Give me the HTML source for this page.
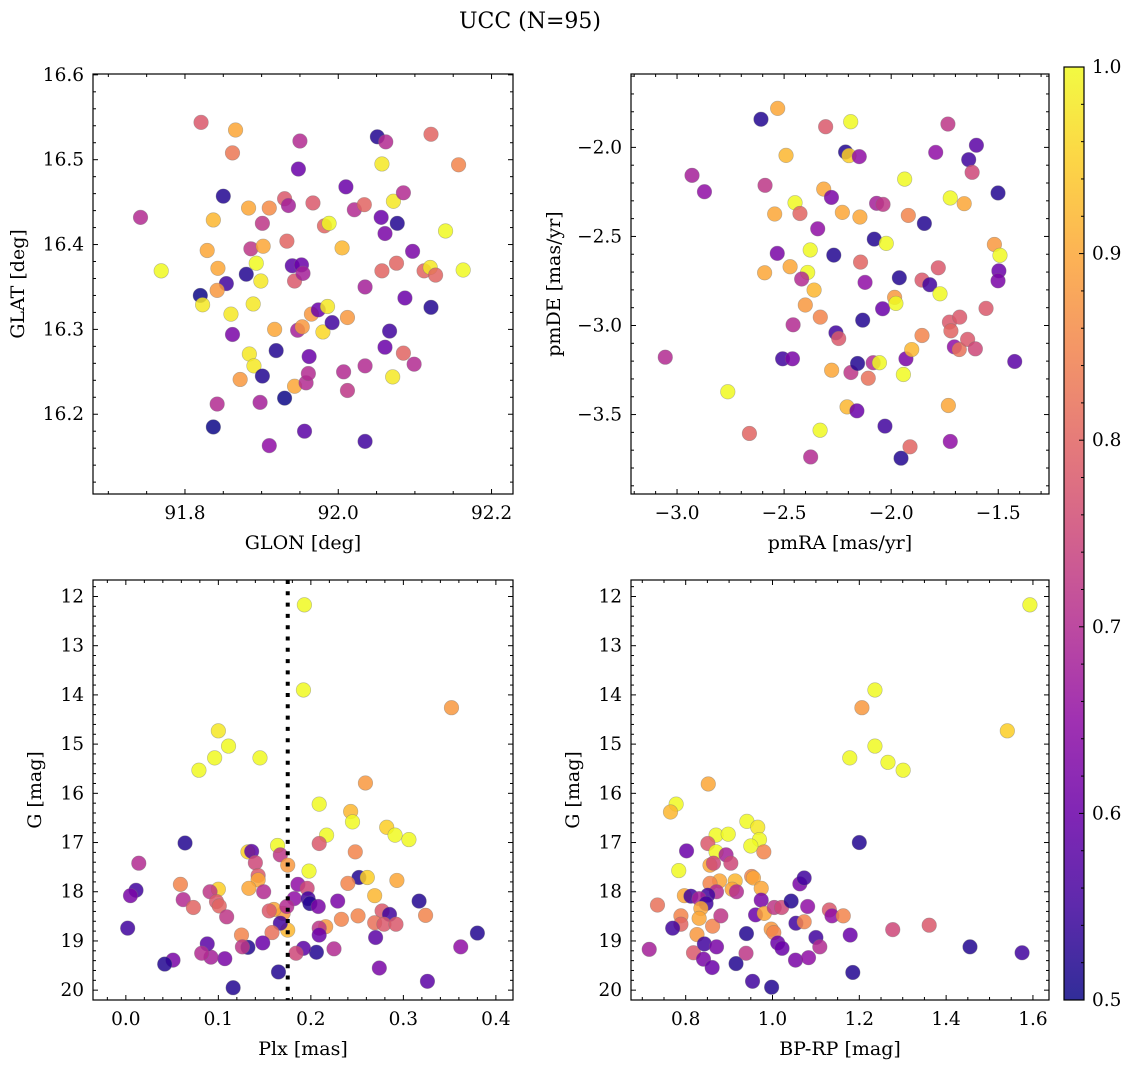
<!DOCTYPE html>
<html><head><meta charset="utf-8"><style>
html,body{margin:0;padding:0;background:#fff;}
svg{display:block;font-family:"DejaVu Serif","Liberation Serif",serif;}
</style></head><body>
<svg id="fig" width="1136" height="1067" viewBox="0 0 1136 1067" xmlns="http://www.w3.org/2000/svg">
<text x="530" y="28" text-anchor="middle" font-size="22">UCC (N=95)</text>
</svg>
<script>
// ---- Panel 1: GLON vs GLAT ----
const glon=[91.742,91.769,91.821,91.866,91.862,91.850,91.837,91.829,91.843,91.854,91.842,91.820,91.823,91.860,91.862,91.880,91.883,91.886,91.893,91.901,91.910,91.902,91.899,91.889,91.872,91.884,91.890,91.901,91.898,91.842,91.837,91.910,91.917,91.919,91.930,91.930,91.935,91.933,91.940,91.943,91.943,91.950,91.948,91.952,91.954,91.947,91.953,91.958,91.961,91.956,91.962,91.965,91.967,91.982,91.974,91.980,91.986,91.988,91.992,92.010,92.005,92.012,92.007,92.012,92.021,92.034,92.035,92.035,92.035,92.051,92.062,92.057,92.056,92.061,92.057,92.061,92.067,92.071,92.072,92.076,92.077,92.085,92.085,92.087,92.097,92.099,92.112,92.121,92.120,92.127,92.121,92.140,92.157,92.163];
const glat=[16.432,16.369,16.544,16.535,16.508,16.457,16.429,16.393,16.372,16.354,16.346,16.340,16.329,16.318,16.294,16.365,16.443,16.395,16.378,16.425,16.443,16.398,16.357,16.330,16.241,16.271,16.257,16.245,16.214,16.212,16.185,16.163,16.300,16.275,16.219,16.454,16.446,16.404,16.375,16.357,16.233,16.522,16.489,16.376,16.366,16.299,16.303,16.237,16.248,16.180,16.268,16.318,16.449,16.422,16.323,16.297,16.327,16.425,16.308,16.468,16.396,16.314,16.250,16.228,16.441,16.447,16.350,16.257,16.168,16.527,16.521,16.495,16.432,16.413,16.369,16.279,16.298,16.244,16.451,16.378,16.425,16.461,16.272,16.337,16.392,16.259,16.369,16.530,16.373,16.364,16.326,16.416,16.494,16.370];
const prob1=[0.7,1.0,0.78,0.9,0.83,0.52,0.92,0.9,0.9,0.55,0.88,0.5,0.98,0.98,0.62,0.52,0.9,0.72,1.0,0.72,0.86,0.9,0.98,0.98,0.88,0.98,0.98,0.52,0.68,0.7,0.5,0.65,0.9,0.52,0.5,0.78,0.68,0.8,0.58,0.78,0.9,0.7,0.6,0.6,0.68,0.68,0.88,0.7,0.7,0.58,0.6,0.88,0.78,0.8,0.6,0.96,0.98,1.0,0.55,0.6,0.92,0.88,0.7,0.72,0.7,0.8,0.68,0.7,0.55,0.52,0.7,0.98,0.6,0.62,0.8,0.6,0.55,0.98,0.98,0.8,0.52,0.7,0.8,0.6,0.62,0.7,0.8,0.8,0.98,0.8,0.52,1.0,0.85,1.0];
// ---- Panel 2: pmRA vs pmDE ----
const pmra=[-3.055,-2.930,-2.872,-2.763,-2.662,-2.608,-2.530,-2.491,-2.589,-2.544,-2.449,-2.426,-2.532,-2.591,-2.472,-2.378,-2.390,-2.418,-2.360,-2.401,-2.331,-2.458,-2.507,-2.461,-2.306,-2.315,-2.279,-2.343,-2.268,-2.228,-2.189,-2.213,-2.197,-2.149,-2.146,-2.258,-2.245,-2.278,-2.188,-2.107,-2.157,-2.084,-2.055,-2.206,-2.160,-2.332,-2.376,-2.143,-2.122,-2.133,-2.079,-2.023,-2.068,-2.038,-2.040,-1.984,-1.978,-2.029,-1.954,-1.912,-1.943,-1.931,-1.904,-1.962,-1.937,-1.920,-1.845,-1.856,-1.856,-1.820,-1.772,-1.780,-1.792,-1.735,-1.724,-1.659,-1.733,-1.724,-1.728,-1.721,-1.705,-1.682,-1.680,-1.643,-1.607,-1.557,-1.638,-1.602,-1.622,-1.501,-1.518,-1.492,-1.497,-1.501,-1.423];
const pmde=[-3.178,-2.157,-2.249,-3.372,-3.606,-1.842,-1.781,-2.045,-2.213,-2.374,-2.311,-2.371,-2.595,-2.704,-2.670,-2.576,-2.702,-2.739,-2.801,-2.885,-2.953,-2.996,-3.187,-3.187,-1.884,-2.234,-2.281,-2.457,-2.605,-2.365,-1.856,-2.026,-2.046,-2.052,-2.391,-3.041,-3.073,-3.251,-3.264,-3.296,-3.213,-3.209,-3.209,-3.457,-3.479,-3.588,-3.738,-2.644,-2.758,-2.970,-2.515,-2.539,-2.314,-2.320,-2.906,-2.842,-2.876,-3.565,-3.745,-3.681,-3.275,-3.187,-3.135,-2.732,-2.178,-2.382,-2.427,-3.056,-2.745,-2.771,-2.822,-2.676,-2.028,-1.869,-2.284,-2.316,-3.449,-3.651,-2.981,-3.030,-3.120,-3.135,-2.953,-3.078,-3.131,-2.904,-2.069,-1.988,-2.140,-2.256,-2.545,-2.606,-2.693,-2.749,-3.202];
const prob2=[0.7,0.68,0.65,1.0,0.8,0.52,0.9,0.92,0.72,0.9,1.0,0.8,0.62,0.9,0.9,1.0,1.0,0.7,0.92,0.88,0.85,0.7,0.55,0.62,0.78,0.9,0.62,0.65,0.52,0.9,1.0,0.52,0.95,0.65,0.9,0.55,0.78,0.9,0.72,0.82,0.52,0.7,1.0,0.92,0.6,1.0,0.7,0.8,0.65,0.52,0.52,1.0,0.68,0.72,0.6,0.88,1.0,0.55,0.52,0.8,1.0,0.62,0.92,0.52,1.0,0.85,0.52,0.85,0.78,0.55,1.0,0.78,0.65,0.72,1.0,0.9,0.9,0.65,0.78,0.8,0.65,0.82,0.78,0.78,0.75,0.78,0.55,0.58,0.75,0.52,0.88,1.0,0.6,0.62,0.58];
// ---- Panel 3: Plx vs G ----
const plx=[0.193,0.192,0.352,0.100,0.111,0.096,0.079,0.145,0.259,0.209,0.243,0.245,0.282,0.291,0.306,0.217,0.209,0.064,0.248,0.014,0.132,0.136,0.164,0.167,0.140,0.175,0.198,0.143,0.143,0.133,0.149,0.100,0.091,0.059,0.062,0.073,0.098,0.101,0.109,0.011,0.005,0.002,0.186,0.196,0.182,0.197,0.199,0.208,0.229,0.252,0.261,0.240,0.293,0.269,0.277,0.285,0.269,0.279,0.292,0.317,0.324,0.380,0.362,0.326,0.274,0.270,0.233,0.251,0.225,0.216,0.209,0.209,0.206,0.192,0.184,0.175,0.170,0.160,0.155,0.174,0.167,0.158,0.165,0.148,0.132,0.125,0.126,0.107,0.092,0.088,0.082,0.051,0.042,0.116];
const gmag3=[12.17,13.90,14.26,14.73,15.04,15.28,15.53,15.28,15.79,16.22,16.37,16.58,16.69,16.85,16.94,16.85,17.02,17.01,17.19,17.42,17.19,17.18,17.06,17.25,17.41,17.46,17.58,17.67,17.76,17.93,18.00,17.95,18.00,17.85,18.16,18.32,18.20,18.29,18.51,17.97,18.08,18.74,17.85,17.93,18.14,18.14,18.24,18.30,18.19,17.71,17.71,17.83,17.77,18.08,18.39,18.46,18.63,18.66,18.66,18.19,18.48,18.84,19.12,19.82,19.55,18.93,18.56,18.49,19.16,18.71,18.74,18.88,19.23,19.15,19.25,18.78,18.44,18.36,18.39,18.30,18.64,18.83,19.63,19.04,19.13,18.88,19.12,19.36,19.33,19.06,19.25,19.39,19.47,19.95];
const prob3=[1.0,1.0,0.88,0.98,1.0,1.0,1.0,1.0,0.88,1.0,0.92,1.0,0.95,1.0,1.0,1.0,0.78,0.52,0.85,0.7,0.95,0.58,1.0,0.72,0.75,0.88,1.0,0.78,0.9,0.9,0.7,0.95,0.72,0.85,0.7,0.8,0.78,0.8,0.72,0.55,0.62,0.55,0.65,0.75,0.65,0.55,0.52,0.62,0.62,0.52,0.95,0.85,0.9,0.92,0.78,0.55,0.82,0.78,0.78,0.52,0.85,0.52,0.65,0.58,0.62,0.58,0.85,0.85,0.7,0.88,0.72,0.6,0.52,0.58,0.75,0.92,0.88,0.9,0.78,0.7,0.55,0.82,0.52,0.6,0.52,0.85,0.72,0.62,0.68,0.58,0.7,0.62,0.52,0.52];
const plxLine=0.175;
// ---- Panel 4: BP-RP vs G ----
const bprp=[1.593,1.236,1.206,1.541,1.236,1.266,1.178,1.301,0.852,0.778,0.765,0.941,0.966,0.970,0.950,0.980,0.870,0.898,0.851,0.870,0.802,0.893,0.904,0.856,0.864,0.784,0.952,0.956,0.914,0.878,0.856,0.907,0.917,0.974,0.871,0.851,0.797,0.812,0.831,0.847,0.835,0.831,0.789,0.789,0.770,0.735,0.716,0.826,0.862,0.881,0.818,0.843,0.841,0.861,0.871,0.916,0.939,0.940,0.954,0.998,0.961,0.974,0.981,1.004,1.021,0.997,1.003,1.012,1.022,1.043,1.063,1.073,1.081,1.054,1.073,1.100,1.109,1.053,1.083,1.131,1.137,1.163,1.179,1.185,1.200,1.277,1.455,1.575,1.361];
const gmag4=[12.17,13.90,14.26,14.73,15.04,15.37,15.28,15.53,15.81,16.22,16.38,16.57,16.69,16.94,17.07,17.19,16.85,16.83,17.02,17.19,17.17,17.25,17.42,17.46,17.42,17.57,17.69,17.72,17.78,17.78,17.83,17.95,18.00,17.93,18.00,18.07,18.08,18.09,18.14,18.24,18.34,18.54,18.49,18.66,18.74,18.27,19.17,18.87,18.70,18.49,19.24,19.06,19.37,19.54,19.12,19.46,19.25,18.85,19.82,19.94,18.47,18.17,18.44,18.32,18.32,18.76,18.83,19.04,19.15,18.19,17.84,17.72,18.30,18.64,18.61,18.93,19.12,19.39,19.34,18.37,18.49,18.49,18.88,19.64,17.00,18.77,19.12,19.24,18.68];
const prob4=[1.0,1.0,0.88,0.95,1.0,1.0,1.0,1.0,0.9,1.0,0.92,1.0,0.98,1.0,1.0,0.85,1.0,1.0,0.78,1.0,0.6,0.68,0.75,0.9,0.75,1.0,0.85,0.9,0.92,0.9,0.85,0.9,0.7,0.9,0.7,0.55,0.9,0.55,0.68,0.55,0.9,0.9,0.85,0.8,0.55,0.82,0.68,0.88,0.85,0.72,0.78,0.55,0.62,0.6,0.62,0.52,0.72,0.52,0.55,0.52,0.6,0.62,0.9,0.72,0.75,0.88,0.85,0.6,0.6,0.52,0.62,0.55,0.65,0.55,0.85,0.55,0.7,0.62,0.65,0.78,0.65,0.85,0.6,0.52,0.52,0.75,0.52,0.55,0.78];
// ---- Colorbar ----
const cbTicks=[0.5,0.6,0.7,0.8,0.9,1.0];
const cbLabels=["0.5","0.6","0.7","0.8","0.9","1.0"];

const NS="http://www.w3.org/2000/svg";
const svg=document.getElementById('fig');
function mk(tag,attrs,parent){const e=document.createElementNS(NS,tag);for(const k in attrs)e.setAttribute(k,attrs[k]);(parent||svg).appendChild(e);return e;}

const plasma=[[13,8,135],[65,4,157],[106,0,168],[143,13,164],[177,42,144],[204,71,120],[225,100,98],[242,132,75],[252,166,54],[252,206,37],[240,249,33]];
function cmap(t){t=Math.max(0,Math.min(1,t));const f=t*10,i=Math.min(9,Math.floor(f)),r=f-i;const a=plasma[i],b=plasma[i+1];
 return 'rgb('+[0,1,2].map(k=>Math.round(a[k]+(b[k]-a[k])*r)).join(',')+')';}
function pcol(p){return cmap((p-0.5)/0.5);}

function fmt(v,d){const s=v.toFixed(d);return s.replace('-','\u2212');}

const TICKFS=18.5, LABFS=19;

function panel(cfg){
 const {x0,y0,w,h,xmin,xmax,ymin,ymax,invertY}=cfg;
 const X=v=>x0+(v-xmin)/(xmax-xmin)*w;
 const Y=v=>invertY? y0+(v-ymin)/(ymax-ymin)*h : y0+h-(v-ymin)/(ymax-ymin)*h;
 const g=mk('g',{});
 
 
 const clipId='clip-'+cfg.name;
 const cp=mk('clipPath',{id:clipId},g);mk('rect',{x:x0,y:y0,width:w,height:h},cp);
 const pts=mk('g',{'clip-path':'url(#'+clipId+')'},g);
 
 
 for(let i=0;i<cfg.xs.length;i++){
  const c=mk('circle',{cx:X(cfg.xs[i]),cy:Y(cfg.ys[i]),r:7.3,fill:pcol(cfg.ps[i]),'fill-opacity':0.85,stroke:'#777','stroke-opacity':0.5,'stroke-width':0.6},pts);
  
  
 }
 if(cfg.vline!==undefined){
  const l2=mk('line',{x1:X(cfg.vline),x2:X(cfg.vline),y1:y0,y2:y0+h,stroke:'#000','stroke-width':4,'stroke-dasharray':'4,7.3'},g);
  
  
 }
 const fr=mk('rect',{x:x0,y:y0,width:w,height:h,fill:'none',stroke:'#000','stroke-width':1.2},g);
 
 
 const eps=1e-9;
 for(let v=Math.ceil(xmin/cfg.xminor-eps)*cfg.xminor; v<=xmax+eps; v+=cfg.xminor){
  const px=X(v); const isMaj=Math.abs(v/cfg.xmajor-Math.round(v/cfg.xmajor))<1e-6; const L=isMaj?5:3;
  mk('line',{x1:px,x2:px,y1:y0+h,y2:y0+h-L,stroke:'#000','stroke-width':1},g);
  mk('line',{x1:px,x2:px,y1:y0,y2:y0+L,stroke:'#000','stroke-width':1},g);
  if(isMaj){const t=mk('text',{x:px,y:y0+h+25,'text-anchor':'middle','font-size':TICKFS},g);t.textContent=fmt(v,cfg.xdec);
   
   }
 }
 for(let v=Math.ceil(ymin/cfg.yminor-eps)*cfg.yminor; v<=ymax+eps; v+=cfg.yminor){
  const py=Y(v); const isMaj=Math.abs(v/cfg.ymajor-Math.round(v/cfg.ymajor))<1e-6; const L=isMaj?5:3;
  mk('line',{x1:x0,x2:x0+L,y1:py,y2:py,stroke:'#000','stroke-width':1},g);
  mk('line',{x1:x0+w,x2:x0+w-L,y1:py,y2:py,stroke:'#000','stroke-width':1},g);
  if(isMaj){const t=mk('text',{x:x0-9,y:py+6,'text-anchor':'end','font-size':TICKFS},g);t.textContent=fmt(v,cfg.ydec);
   
   }
 }
 const xl=mk('text',{x:x0+w/2,y:y0+h+55,'text-anchor':'middle','font-size':LABFS},g);xl.textContent=cfg.xlabel;
 
 
 const yl=mk('text',{x:0,y:0,'text-anchor':'middle','font-size':LABFS,transform:'translate('+cfg.ylx+','+(y0+h/2)+') rotate(-90)'},g);yl.textContent=cfg.ylabel;
 
 
}

panel({name:'glon-glat-panel',x0:93,y0:74,w:420,h:420,xmin:91.680,xmax:92.228,ymin:16.106,ymax:16.601,xmajor:0.2,xminor:0.05,ymajor:0.1,yminor:0.02,xdec:1,ydec:1,xs:glon,ys:glat,ps:prob1,xlabel:'GLON [deg]',ylabel:'GLAT [deg]',ylx:24});
panel({name:'pm-panel',x0:631,y0:74,w:418,h:420,xmin:-3.215,xmax:-1.263,ymin:-3.946,ymax:-1.588,xmajor:0.5,xminor:0.1,ymajor:0.5,yminor:0.1,xdec:1,ydec:1,xs:pmra,ys:pmde,ps:prob2,xlabel:'pmRA [mas/yr]',ylabel:'pmDE [mas/yr]',ylx:560});
panel({name:'plx-g-panel',x0:93,y0:580,w:420,h:420,xmin:-0.0355,xmax:0.4185,ymin:11.665,ymax:20.2,invertY:true,xmajor:0.1,xminor:0.02,ymajor:1,yminor:0.2,xdec:1,ydec:0,xs:plx,ys:gmag3,ps:prob3,vline:plxLine,xlabel:'Plx [mas]',ylabel:'G [mag]',ylx:41});
panel({name:'cmd-panel',x0:631,y0:580,w:418,h:420,xmin:0.674,xmax:1.637,ymin:11.665,ymax:20.2,invertY:true,xmajor:0.2,xminor:0.05,ymajor:1,yminor:0.2,xdec:1,ydec:0,xs:bprp,ys:gmag4,ps:prob4,xlabel:'BP-RP [mag]',ylabel:'G [mag]',ylx:579});

(function(){
 const cx=1064,cy=67,cw=20,ch=933,vmin=0.5,vmax=1.0;
 const g=mk('g',{});
 
 
 const defs=mk('defs',{},g);
 const lg=mk('linearGradient',{id:'cbgrad',x1:0,y1:1,x2:0,y2:0},defs);
 for(let i=0;i<=10;i++){mk('stop',{offset:(i/10),'stop-color':cmap(i/10),'stop-opacity':0.85},lg);}
 mk('rect',{x:cx,y:cy,width:cw,height:ch,fill:'url(#cbgrad)',stroke:'#000','stroke-width':1.2},g);
 const CY=v=>cy+ch-(v-vmin)/(vmax-vmin)*ch;
 for(let k=0;k<=25;k++){const v=vmin+k*0.02;const py=CY(v);const maj=k%5===0;
  mk('line',{x1:cx+cw,x2:cx+cw-(maj?5:3),y1:py,y2:py,stroke:'#000','stroke-width':1},g);}
 cbTicks.forEach((v,i)=>{const t=mk('text',{x:cx+cw+8,y:CY(v)+6,'font-size':TICKFS},g);t.textContent=cbLabels[i];
  
  });
})();
</script>
</body></html>
